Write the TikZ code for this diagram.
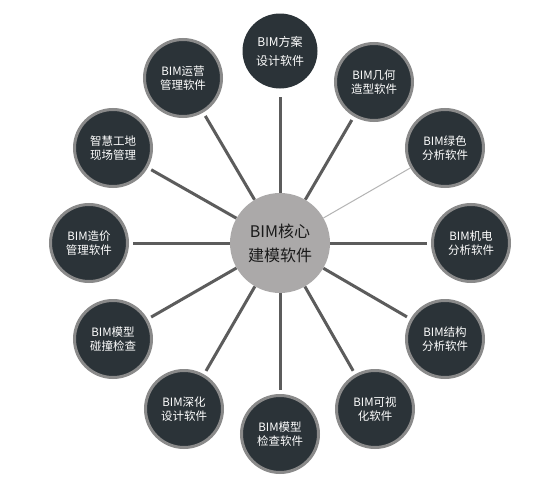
\documentclass[tikz,border=0pt]{standalone}
\usepackage{fontspec}
\setmainfont{Noto Sans CJK SC}
\definecolor{outerfill}{HTML}{2B3338}
\definecolor{ringgray}{HTML}{8A8A8A}
\definecolor{hubfill}{HTML}{ABA9A9}
\definecolor{spokegray}{HTML}{5C5C5C}
\definecolor{thingray}{HTML}{B4B4B4}
\definecolor{hubtext}{HTML}{1A1A1A}
\begin{document}
\begin{tikzpicture}[x=1pt,y=-1pt,
  leaf/.style={circle, fill=outerfill, draw=ringgray, line width=3pt, minimum size=77pt,
    inner sep=0pt, text=white, align=center, font=\fontsize{11.5}{14}\selectfont},
  topleaf/.style={circle, fill=outerfill, minimum size=75pt, inner sep=0pt, text=white,
    align=center, font=\fontsize{12}{19}\selectfont},
  hub/.style={circle, fill=hubfill, minimum size=100pt, inner sep=0pt, text=hubtext,
    align=center, font=\fontsize{16}{24}\selectfont},
  spoke/.style={draw=spokegray, line width=3pt, shorten >=4pt},
  thinspoke/.style={draw=thingray, line width=1pt}]
\useasboundingbox (0,0) rectangle (542,490);
\fill[white] (0,0) rectangle (542,490);
\node[hub] (c) at (280,243) {BIM核心\\建模软件};
\node[topleaf] (n1) at (280,51) {BIM方案\\设计软件};
\node[leaf] (n2) at (374,82) {BIM几何\\造型软件};
\node[leaf] (n3) at (445,148) {BIM绿色\\分析软件};
\node[leaf] (n4) at (471,243) {BIM机电\\分析软件};
\node[leaf] (n5) at (445,339) {BIM结构\\分析软件};
\node[leaf] (n6) at (375,409) {BIM可视\\化软件};
\node[leaf] (n7) at (280,434) {BIM模型\\检查软件};
\node[leaf] (n8) at (184,409) {BIM深化\\设计软件};
\node[leaf] (n9) at (113,339) {BIM模型\\碰撞检查};
\node[leaf] (n10) at (89,243) {BIM造价\\管理软件};
\node[leaf] (n11) at (113,148) {智慧工地\\现场管理};
\node[leaf] (n12) at (183,78) {BIM运营\\管理软件};
\draw[spoke, shorten >=8pt] (c) -- (n1);
\draw[spoke] (c) -- (n2);
\draw[thinspoke] (c) -- (n3);
\draw[spoke] (c) -- (n4);
\draw[spoke] (c) -- (n5);
\draw[spoke] (c) -- (n6);
\draw[spoke] (c) -- (n7);
\draw[spoke] (c) -- (n8);
\draw[spoke] (c) -- (n9);
\draw[spoke] (c) -- (n10);
\draw[spoke] (c) -- (n11);
\draw[spoke] (c) -- (n12);
\end{tikzpicture}
\end{document}
